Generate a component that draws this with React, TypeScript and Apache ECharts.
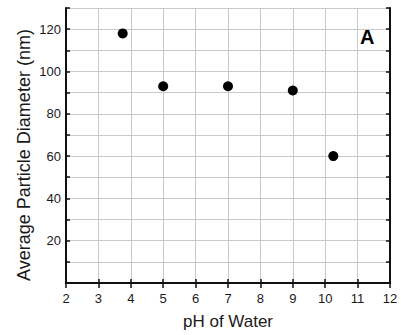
import React, { useEffect, useRef } from "react";
import * as echarts from "echarts";

// pH of water vs. measured average particle diameter
const phValues = [3.75, 5, 7, 9, 10.25];
const diameters = [118, 93, 93, 91, 60];
const yLabelValues = [20, 40, 60, 80, 100, 120];

const FONT = "'Liberation Sans', Arial, sans-serif";
const AXIS_COLOR = "#111";
const GRID_COLOR = "#c9c9c9";
const TEXT_COLOR = "#1a1a1a";

export default function App() {
  const ref = useRef<HTMLDivElement>(null);

  useEffect(() => {
    if (!ref.current) return;
    const chart = echarts.init(ref.current, null, { renderer: "svg" });
    const points = phValues.map((x, i) => [x, diameters[i]]);

    const frameAxis = {
      axisLine: { show: true, lineStyle: { color: AXIS_COLOR, width: 2 } },
      axisLabel: { show: false },
      splitLine: { show: false },
    };

    chart.setOption({
      animation: false,
      backgroundColor: "#fff",
      grid: { left: 66, right: 11, top: 8, bottom: 47, containLabel: false },
      xAxis: [
        {
          type: "value",
          min: 2,
          max: 12,
          interval: 1,
          name: "pH of Water",
          nameLocation: "middle",
          nameGap: 30,
          nameTextStyle: { fontFamily: FONT, fontSize: 17, color: TEXT_COLOR },
          axisLine: { show: true, lineStyle: { color: AXIS_COLOR, width: 2 } },
          axisTick: { show: true, inside: true, length: 4, lineStyle: { color: AXIS_COLOR, width: 1.5 } },
          axisLabel: { fontFamily: FONT, fontSize: 13, color: TEXT_COLOR, margin: 9 },
          splitLine: { show: true, lineStyle: { color: GRID_COLOR, width: 1 } },
        },
        {
          type: "value",
          position: "top",
          min: 2,
          max: 12,
          interval: 1,
          ...frameAxis,
          axisTick: { show: true, inside: true, length: 5, lineStyle: { color: AXIS_COLOR, width: 1.5 } },
        },
      ],
      yAxis: [
        {
          type: "value",
          min: 0,
          max: 130,
          interval: 10,
          axisLine: { show: true, lineStyle: { color: AXIS_COLOR, width: 2 } },
          axisTick: { show: true, inside: true, length: 4, lineStyle: { color: AXIS_COLOR, width: 1.5 } },
          axisLabel: {
            fontFamily: FONT,
            fontSize: 13,
            color: TEXT_COLOR,
            margin: 5,
            formatter: (v: number) => (yLabelValues.includes(v) ? String(v) : ""),
          },
          splitLine: { show: true, lineStyle: { color: GRID_COLOR, width: 1 } },
        },
        {
          type: "value",
          position: "right",
          min: 0,
          max: 130,
          interval: 10,
          ...frameAxis,
          axisTick: { show: true, inside: true, length: 4, lineStyle: { color: AXIS_COLOR, width: 1.5 } },
        },
      ],
      series: [
        {
          type: "scatter",
          data: points,
          symbol: "circle",
          symbolSize: 10,
          itemStyle: { color: "#000", opacity: 1 },
        },
      ],
      graphic: [
        {
          type: "text",
          x: 24,
          y: 155,
          rotation: Math.PI / 2,
          style: {
            text: "Average Particle Diameter (nm)",
            fontFamily: FONT,
            fontSize: 18,
            fill: TEXT_COLOR,
            align: "center",
            verticalAlign: "middle",
          },
        },
        {
          type: "text",
          left: 360,
          top: 27,
          style: {
            text: "A",
            fontFamily: FONT,
            fontSize: 20,
            fontWeight: "bold",
            fill: "#000",
          },
        },
      ],
    });

    return () => chart.dispose();
  }, []);

  return (
    <div
      ref={ref}
      style={{ position: "absolute", left: 0, top: 0, width: 401, height: 335 }}
    />
  );
}
